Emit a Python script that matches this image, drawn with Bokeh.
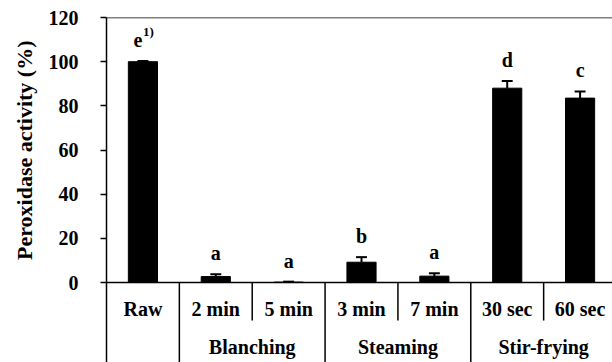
from bokeh.plotting import figure
from bokeh.models import Range1d, FixedTicker, Span, Title
from bokeh.core.properties import value
from bokeh.embed import file_html
from bokeh.resources import INLINE

categories = ["Raw", "2 min", "5 min", "3 min", "7 min", "30 sec", "60 sec"]
groups = ["", "Blanching", "Blanching", "Steaming", "Steaming", "Stir-frying", "Stir-frying"]
activity = [100.0, 2.7, 0.2, 9.2, 2.9, 88.0, 83.5]
errors = [0.3, 1.0, 0.2, 2.3, 1.3, 3.2, 3.0]
letters = ["e", "a", "a", "b", "a", "d", "c"]
notes = ["1)", "", "", "", "", "", ""]
y_ticks = [0, 20, 40, 60, 80, 100, 120]

FAM = "Liberation Serif"
FONT = value(FAM)
n = len(categories)
xs = [i + 0.5 for i in range(n)]
upper = [a + e for a, e in zip(activity, errors)]

Y_LOW = -36.2
p = figure(width=612, height=362, output_backend="svg", toolbar_location=None,
           x_range=Range1d(0, 6.945), y_range=Range1d(Y_LOW, 120),
           x_axis_location=None,
           min_border_left=96, min_border_right=0, min_border_top=17, min_border_bottom=0)
p.outline_line_color = None
p.grid.visible = False

ax = p.yaxis[0]
ax.ticker = FixedTicker(ticks=y_ticks)
ax.axis_line_width = 1.5
ax.axis_line_color = "black"
ax.major_tick_line_width = 1.5
ax.major_tick_line_color = "black"
ax.major_tick_in = 0
ax.major_tick_out = 6
ax.minor_tick_line_color = None
ax.major_label_text_font = FAM
ax.major_label_text_font_style = "bold"
ax.major_label_text_font_size = "20px"
ax.major_label_text_color = "black"
ax.major_label_standoff = 22

p.add_layout(Title(text="Peroxidase activity (%)", align="right", offset=23, standoff=18,
                   text_font=FAM, text_font_style="bold", text_font_size="22px",
                   text_color="black"), "left")

p.add_layout(Span(location=0, dimension="width", line_color="black", line_width=1.5))
p.add_layout(Span(location=120, dimension="width", line_color="black", line_width=1.5))

# bars and error bars
p.vbar(x=xs, top=activity, bottom=0, width=0.4, fill_color="black", line_color="black")
p.segment(x0=xs, y0=activity, x1=xs, y1=upper, line_color="black", line_width=2)
cap = 0.075
p.segment(x0=[x - cap for x in xs], y0=upper, x1=[x + cap for x in xs], y1=upper,
          line_color="black", line_width=2)

# significance letters
letter_dx = [-5 if nt else 0 for nt in notes]
p.text(x=xs, y=upper, text=letters, x_offset=letter_dx, y_offset=-21,
       text_align="center", text_baseline="alphabetic", text_font=FONT,
       text_font_style="bold", text_font_size="20px", text_color="black")
p.text(x=xs, y=upper, text=notes, x_offset=0, y_offset=-30,
       text_align="left", text_baseline="alphabetic", text_font=FONT,
       text_font_style="bold", text_font_size="13px", text_color="black")

# separators below the axis
for i in range(n - 1):
    long_sep = groups[i] != groups[i + 1] or groups[i] == ""
    bottom = Y_LOW if long_sep else -17.2
    p.segment(x0=[i + 1], y0=[0], x1=[i + 1], y1=[bottom], line_color="black", line_width=1.5)

# category labels
p.text(x=xs, y=[-11.8] * n, text=categories, text_align="center", text_baseline="middle",
       text_font=FONT, text_font_style="bold", text_font_size="20px", text_color="black")

# group labels
gnames = []
for g in groups:
    if g and g not in gnames:
        gnames.append(g)
gx = []
for g in gnames:
    idx = [xs[i] for i in range(n) if groups[i] == g]
    gx.append(sum(idx) / len(idx))
p.text(x=gx, y=[-29.0] * len(gx), text=gnames, text_align="center", text_baseline="middle",
       text_font=FONT, text_font_style="bold", text_font_size="20px", text_color="black")

open("out.html", "w").write(file_html(p, INLINE))
